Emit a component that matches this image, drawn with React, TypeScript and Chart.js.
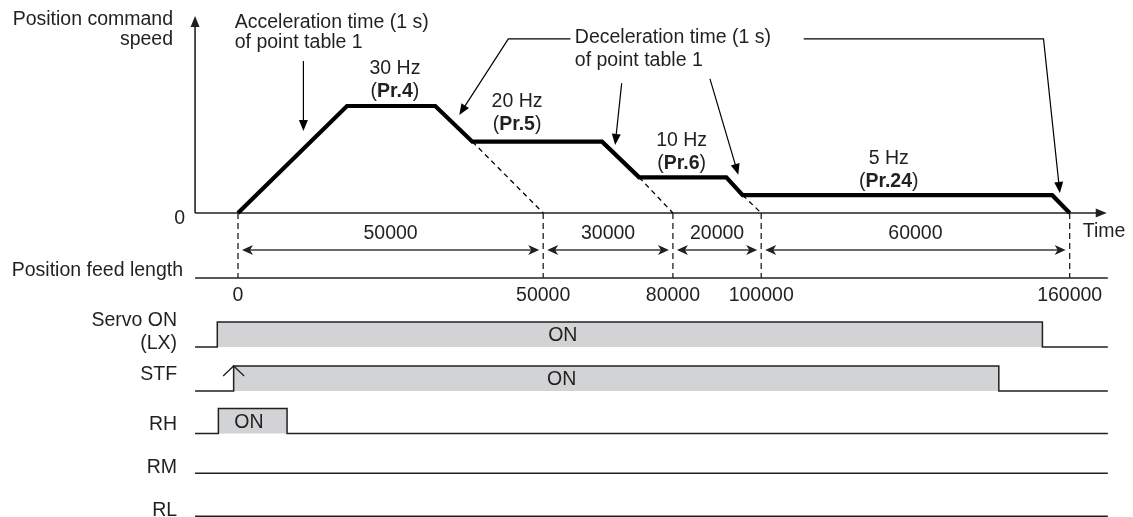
import React, { useEffect, useRef } from "react";
import { Chart, registerables } from "chart.js";

Chart.register(...registerables);

// ---------------- data ----------------
// position command speed profile (time in s, speed in Hz)
const speedTimes = [0, 1.0, 1.81, 2.15, 3.34, 3.68, 4.48, 4.63, 7.47, 7.63];
const speedHz = [0, 30, 30, 20, 20, 10, 10, 5, 5, 0];

// speed level labels
const levelHz = [30, 20, 10, 5];
const levelText = ["30 Hz", "20 Hz", "10 Hz", "5 Hz"];
const levelParam = ["Pr.4", "Pr.5", "Pr.6", "Pr.24"];
const levelLabelTimes = [1.44, 2.56, 4.07, 5.97];

// position feed length marks
const feedPositions = [0, 50000, 80000, 100000, 160000];
const feedTimes = [0, 2.8, 3.99, 4.8, 7.63];
// index (in the speed profile) of each deceleration end whose slope is extended to the axis
const extendFromIndex = [3, 5, 7];

// I/O signals
const signalNames = [["Servo ON", "(LX)"], ["STF"], ["RH"], ["RM"], ["RL"]];
const signalOnTimes: (number | null)[] = [-0.19, -0.04, -0.18, null, null];
const signalOffTimes: (number | null)[] = [7.38, 6.98, 0.45, null, null];
const signalOnLabelTimes: (number | null)[] = [2.98, 2.97, 0.1, null, null];

// annotation leaders (time s, speed Hz)
const accelLeader = [[0.6, 42.6], [0.6, 23.0]];
const decelLeaders = [
  [[3.05, 48.8], [2.48, 48.8], [2.03, 27.5]],
  [[3.52, 36.4], [3.46, 19.1]],
  [[4.33, 37.6], [4.59, 10.7]],
  [[5.19, 48.8], [7.39, 48.8], [7.54, 5.6]],
];

// ---------------- layout / style ----------------
const X_MIN = -2.1835;
const X_MAX = 8.211;
const SPEED_MIN = -85.23;
const SPEED_MAX = 59.72;
const LANE_MIN = -7.977;
const LANE_MAX = 3.908;

const AXIS_START = -0.394;
const AXIS_END = 7.97;
const LINE_END = 7.98;
const SPEED_AXIS_TOP = 55.2;

const laneBase = [0, 1.01, 1.99, 2.9, 3.89];
const PULSE = 0.575;
const FEED_LANE = -1.586;
const DIM_LANE = -2.23;
const DIM_LABEL_LANE = -2.598;
const FEED_LABEL_LANE = -1.172;
const laneLabelDy = [[-26, -3], [-16], [-9], [-6], [-6]];

const FONT = '"Liberation Sans", Arial, Helvetica, sans-serif';
const FS = 19.5;
const TEXT = "#231f20";
const GREY = "#d1d3d4";

const f = (bold = false) => `${bold ? "bold " : ""}${FS}px ${FONT}`;

function arrowHead(ctx: CanvasRenderingContext2D, x1: number, y1: number, x2: number, y2: number, len: number, half: number, notch = 0) {
  const a = Math.atan2(y2 - y1, x2 - x1);
  ctx.save();
  ctx.translate(x2, y2);
  ctx.rotate(a);
  ctx.beginPath();
  ctx.moveTo(0, 0);
  ctx.lineTo(-len, -half);
  ctx.lineTo(-len + notch, 0);
  ctx.lineTo(-len, half);
  ctx.closePath();
  ctx.fill();
  ctx.restore();
}

function leader(ctx: CanvasRenderingContext2D, pts: number[][]) {
  ctx.beginPath();
  const n = pts.length;
  const [ax, ay] = pts[n - 2];
  const [bx, by] = pts[n - 1];
  const d = Math.hypot(bx - ax, by - ay);
  const ex = bx - ((bx - ax) / d) * 8;
  const ey = by - ((by - ay) / d) * 8;
  ctx.moveTo(pts[0][0], pts[0][1]);
  for (let i = 1; i < n - 1; i++) ctx.lineTo(pts[i][0], pts[i][1]);
  ctx.lineTo(ex, ey);
  ctx.stroke();
  arrowHead(ctx, ax, ay, bx, by, 11, 4.5);
}

function richCenter(ctx: CanvasRenderingContext2D, x: number, y: number, parts: [string, boolean][]) {
  const widths = parts.map(([s, b]) => {
    ctx.font = f(b);
    return ctx.measureText(s).width;
  });
  const total = widths.reduce((a, b) => a + b, 0);
  let cx = x - total / 2;
  ctx.textAlign = "left";
  parts.forEach(([s, b], i) => {
    ctx.font = f(b);
    ctx.fillText(s, cx, y);
    cx += widths[i];
  });
}

const diagramPlugin = {
  id: "diagram",
  beforeDatasetsDraw(chart: any) {
    const ctx: CanvasRenderingContext2D = chart.ctx;
    const px = (t: number) => chart.scales.x.getPixelForValue(t);
    const py = (v: number) => chart.scales.speed.getPixelForValue(v);
    const pl = (v: number) => chart.scales.lane.getPixelForValue(v);
    ctx.save();
    ctx.strokeStyle = TEXT;
    ctx.fillStyle = TEXT;
    ctx.lineWidth = 1.6;
    // speed axis
    const ax = px(AXIS_START);
    const y0 = py(0);
    ctx.beginPath();
    ctx.moveTo(ax, y0);
    ctx.lineTo(ax, py(SPEED_AXIS_TOP) + 6);
    ctx.stroke();
    arrowHead(ctx, ax, y0, ax, py(SPEED_AXIS_TOP), 11, 4.5);
    // time axis
    ctx.beginPath();
    ctx.moveTo(ax, y0);
    ctx.lineTo(px(AXIS_END) - 6, y0);
    ctx.stroke();
    arrowHead(ctx, ax, y0, px(AXIS_END), y0, 11, 4.5);
    // feed length line
    ctx.lineWidth = 1.5;
    ctx.beginPath();
    ctx.moveTo(ax, pl(FEED_LANE));
    ctx.lineTo(px(LINE_END), pl(FEED_LANE));
    ctx.stroke();
    // dashed verticals
    ctx.lineWidth = 1.3;
    ctx.setLineDash([6, 4]);
    feedTimes.forEach((t) => {
      ctx.beginPath();
      ctx.moveTo(px(t), y0);
      ctx.lineTo(px(t), pl(FEED_LANE));
      ctx.stroke();
    });
    ctx.setLineDash([]);
    // dimension arrows
    ctx.strokeStyle = "#3a3a3a";
    ctx.fillStyle = "#231f20";
    ctx.lineWidth = 1.5;
    const dy = pl(DIM_LANE);
    for (let i = 0; i < feedTimes.length - 1; i++) {
      const a = px(feedTimes[i]) + 4;
      const b = px(feedTimes[i + 1]) - 4;
      ctx.beginPath();
      ctx.moveTo(a + 6, dy);
      ctx.lineTo(b - 6, dy);
      ctx.stroke();
      arrowHead(ctx, b, dy, a, dy, 11, 5, 3);
      arrowHead(ctx, a, dy, b, dy, 11, 5, 3);
    }
    ctx.restore();
  },
  afterDatasetsDraw(chart: any) {
    const ctx: CanvasRenderingContext2D = chart.ctx;
    const area = chart.chartArea;
    const px = (t: number) => chart.scales.x.getPixelForValue(t);
    const py = (v: number) => chart.scales.speed.getPixelForValue(v);
    const pl = (v: number) => chart.scales.lane.getPixelForValue(v);
    const ax = px(AXIS_START);
    const y0 = py(0);
    ctx.save();
    ctx.fillStyle = TEXT;
    ctx.strokeStyle = TEXT;
    ctx.textBaseline = "middle";
    ctx.font = f();

    // axis titles
    ctx.textAlign = "right";
    ctx.fillText("Position command", ax - 22, area.top + 20);
    ctx.fillText("speed", ax - 22, area.top + 40);
    ctx.fillText("0", ax - 10, y0 + 6);
    ctx.fillText("Position feed length", ax - 12, pl(FEED_LANE) - 7);
    ctx.textAlign = "left";
    ctx.fillText("Time", px(AXIS_END) - 24, y0 + 19);

    // acceleration / deceleration notes
    ctx.fillText("Acceleration time (1 s)", px(-0.03), py(53.3));
    ctx.fillText("of point table 1", px(-0.03), py(47.9));
    ctx.fillText("Deceleration time (1 s)", px(3.09), py(49.1));
    ctx.fillText("of point table 1", px(3.09), py(42.8));

    // speed level labels
    levelHz.forEach((hz, i) => {
      const x = px(levelLabelTimes[i]);
      const extra = i === 1 ? -3 : 0;
      ctx.font = f();
      ctx.textAlign = "center";
      ctx.fillText(levelText[i], x, py(hz) - 37 + extra);
      richCenter(ctx, x, py(hz) - 14 + extra, [["(", false], [levelParam[i], true], [")", false]]);
    });

    // feed segment labels and mark labels
    ctx.font = f();
    ctx.textAlign = "center";
    for (let i = 0; i < feedPositions.length - 1; i++) {
      const mid = (px(feedTimes[i]) + px(feedTimes[i + 1])) / 2;
      ctx.fillText(String(feedPositions[i + 1] - feedPositions[i]), mid, pl(DIM_LABEL_LANE));
    }
    feedPositions.forEach((p, i) => {
      ctx.fillText(String(p), px(feedTimes[i]), pl(FEED_LABEL_LANE));
    });

    // signal names and ON labels
    signalNames.forEach((lines, i) => {
      const base = pl(laneBase[i]);
      ctx.textAlign = "right";
      lines.forEach((s, j) => ctx.fillText(s, ax - 18, base + laneLabelDy[i][j]));
      const lt = signalOnLabelTimes[i];
      if (lt !== null) {
        ctx.textAlign = "center";
        ctx.fillText("ON", px(lt), base - 11);
      }
    });

    // STF start arrow
    ctx.lineWidth = 1.3;
    const stfRise = signalOnTimes[1] as number;
    const sx = px(stfRise);
    const sy = pl(laneBase[1] - PULSE);
    ctx.beginPath();
    ctx.moveTo(sx - 10.5, sy + 10);
    ctx.lineTo(sx, sy);
    ctx.lineTo(sx + 10.5, sy + 10);
    ctx.stroke();

    // leaders
    ctx.lineWidth = 1.2;
    ctx.fillStyle = "#000";
    ctx.strokeStyle = "#000";
    const toPx = (pts: number[][]) => pts.map(([t, v]) => [px(t), py(v)]);
    leader(ctx, toPx(accelLeader));
    decelLeaders.forEach((l) => leader(ctx, toPx(l)));
    ctx.restore();
  },
};

export default function App() {
  const ref = useRef<HTMLCanvasElement | null>(null);
  useEffect(() => {
    document.body.style.margin = "0";
    const canvas = ref.current;
    if (!canvas) return;

    const datasets: any[] = [];
    // signals
    signalNames.forEach((_, i) => {
      const base = laneBase[i];
      const on = signalOnTimes[i];
      const off = signalOffTimes[i];
      const data =
        on !== null && off !== null
          ? [
              { x: AXIS_START, y: base },
              { x: on, y: base },
              { x: on, y: base - PULSE },
              { x: off, y: base - PULSE },
              { x: off, y: base },
              { x: LINE_END, y: base },
            ]
          : [
              { x: AXIS_START, y: base },
              { x: LINE_END, y: base },
            ];
      datasets.push({
        data,
        yAxisID: "lane",
        borderColor: TEXT,
        borderWidth: 1.5,
        backgroundColor: GREY,
        fill: on !== null ? { value: base } : false,
        pointRadius: 0,
        tension: 0,
        borderJoinStyle: "miter",
      });
    });
    // dashed slope extensions
    extendFromIndex.forEach((idx, k) => {
      datasets.push({
        data: [
          { x: speedTimes[idx], y: speedHz[idx] },
          { x: feedTimes[k + 1], y: 0 },
        ],
        yAxisID: "speed",
        borderColor: "#000",
        borderWidth: 1.3,
        borderDash: [5, 4],
        fill: false,
        pointRadius: 0,
      });
    });
    // speed profile
    datasets.push({
      data: speedTimes.map((t, i) => ({ x: t, y: speedHz[i] })),
      yAxisID: "speed",
      borderColor: "#000",
      borderWidth: 4.2,
      borderJoinStyle: "miter",
      borderCapStyle: "butt",
      fill: false,
      pointRadius: 0,
      tension: 0,
    });

    const chart = new Chart(canvas, {
      type: "line",
      data: { datasets },
      options: {
        responsive: false,
        animation: false,
        devicePixelRatio: 1,
        events: [],
        layout: { padding: 0 },
        plugins: {
          legend: { display: false },
          tooltip: { enabled: false },
          title: { display: false },
        },
        scales: {
          x: { type: "linear", min: X_MIN, max: X_MAX, display: false },
          speed: { type: "linear", position: "left", min: SPEED_MIN, max: SPEED_MAX, display: false },
          lane: { type: "linear", position: "left", min: LANE_MIN, max: LANE_MAX, reverse: true, display: false },
        },
      } as any,
      plugins: [diagramPlugin],
    });
    return () => chart.destroy();
  }, []);

  return (
    <div style={{ width: 1133, height: 517, background: "#fff" }}>
      <canvas ref={ref} width={1133} height={517} style={{ display: "block", width: 1133, height: 517 }} />
    </div>
  );
}
